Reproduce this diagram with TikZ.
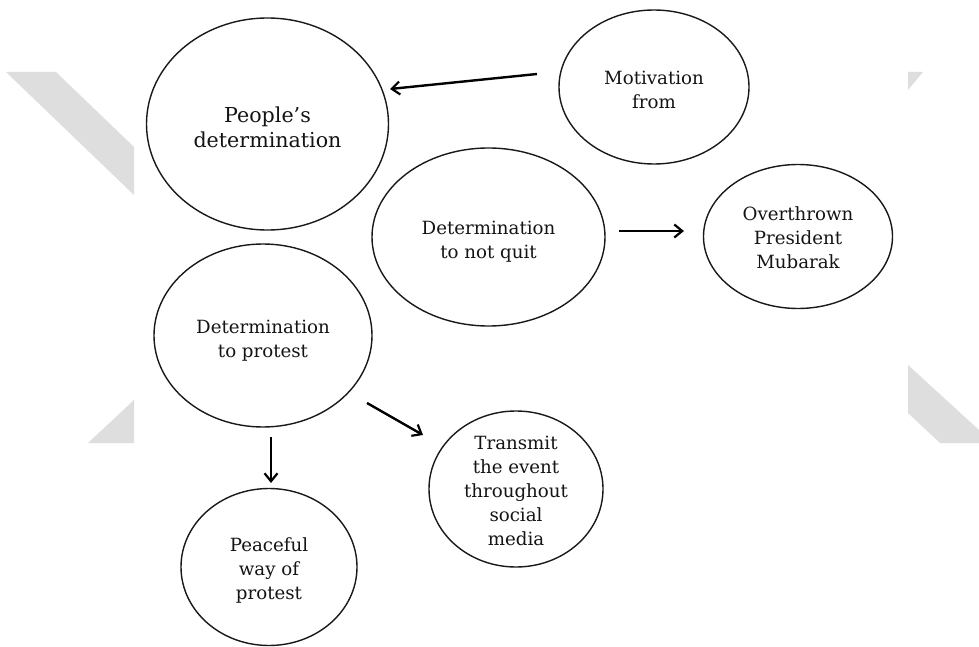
\documentclass[tikz,border=0pt]{standalone}
\usepackage{fontspec}
\setmainfont{DejaVu Serif}
\usetikzlibrary{shapes.geometric,arrows.meta}
\tikzset{
  bubble/.style={ellipse, draw=black!90, line width=1.4bp, fill=white,
    inner sep=0pt},
  words/.style={inner sep=0pt, align=center, text=black!92,
    font=\fontsize{18.2bp}{24bp}\selectfont},
  bigwords/.style={words, font=\fontsize{20.6bp}{25bp}\selectfont},
  link/.style={draw=black, line width=2.4bp,
    -{Straight Barb[length=8bp,width=13bp,line width=2.2bp]}},
  shade/.style={fill=black!13, draw=none}
}
\begin{document}
\begin{tikzpicture}[x=1bp,y=-1bp]
\useasboundingbox (0,0) rectangle (979,647);
\fill[white] (0,0) rectangle (979,647);

% light grey chevron pieces at the sides
\path[shade] (6,72) -- (56,72) -- (134,147) -- (134,195) -- cycle;
\path[shade] (88,443) -- (134,400) -- (134,443) -- cycle;
\path[shade] (908,72) -- (923,72) -- (908,90) -- cycle;
\path[shade] (908,365) -- (979,430) -- (979,443) -- (940,443) -- (908,413) -- cycle;

% bubbles
\node[bubble, minimum width=242bp, minimum height=212bp] (peo) at (267.5,124) {};
\node[bubble, minimum width=190bp, minimum height=154bp] (mot) at (654,87) {};
\node[bubble, minimum width=233bp, minimum height=178bp] (quit) at (488.5,237) {};
\node[bubble, minimum width=189bp, minimum height=144bp] (mub) at (798,236.5) {};
\node[bubble, minimum width=218bp, minimum height=183bp] (prot) at (263,335.5) {};
\node[bubble, minimum width=176bp, minimum height=157bp] (peace) at (269,567) {};
\node[bubble, minimum width=174bp, minimum height=156bp] (trans) at (516,489) {};

% bubble texts
\node[bigwords] (peo-t) at ([yshift=-3bp]peo.center) {People’s\\determination};
\node[words] (mot-t) at ([yshift=-3bp]mot.center) {Motivation\\from};
\node[words] (quit-t) at ([yshift=-5bp]quit.center) {Determination\\to not quit};
\node[words] (mub-t) at ([yshift=-1.5bp]mub.center) {Overthrown\\President\\Mubarak};
\node[words] (prot-t) at ([yshift=-5bp]prot.center) {Determination\\to protest};
\node[words] (peace-t) at ([yshift=-3.5bp]peace.center) {Peaceful\\way of\\protest};
\node[words] (trans-t) at ([yshift=-2bp]trans.center)
  {Transmit\\the event\\throughout\\social\\media};

% arrow end points, set off from the bubbles
\coordinate (m1) at (537,74);
\coordinate (p1) at (390,89);
\coordinate (q1) at (619,231);
\coordinate (o1) at (684,231);
\coordinate (d1) at (271,437);
\coordinate (w1) at (271,483);
\coordinate (d2) at (367,403);
\coordinate (t1) at (423,435);

\draw[link] (m1) -- (p1);
\draw[link] (q1) -- (o1);
\draw[link] (d1) -- (w1);
\draw[link] (d2) -- (t1);
\end{tikzpicture}
\end{document}
